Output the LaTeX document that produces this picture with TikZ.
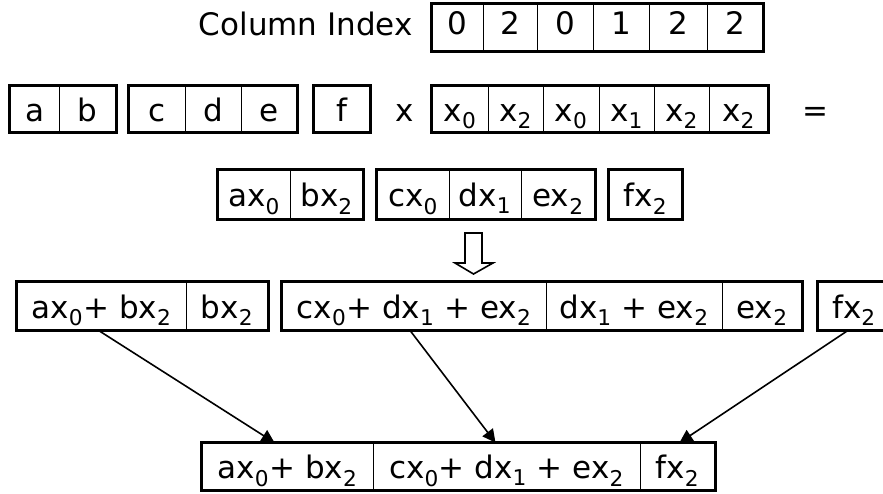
\documentclass[tikz,border=0pt]{standalone}
\usepackage{fontspec}
\setmainfont{DejaVu Sans}
\usetikzlibrary{arrows.meta}
\newcommand{\sbs}[1]{\textsubscript{#1}}
\tikzset{
  every node/.style={font=\fontsize{31}{34}\selectfont},
  cell/.style={draw, line width=0.8pt, inner sep=0pt, anchor=center, text height=26pt, text depth=2pt},
  cellone/.style={cell, text height=22pt, text depth=9pt},
  outer/.style={line width=2.8pt},
  conn/.style={line width=1.6pt, -{Triangle[width=13pt,length=13pt]}},
}
\begin{document}
\begin{tikzpicture}[x=1pt,y=-1pt]
\useasboundingbox (0,0) rectangle (883,493);
\begin{scope}
\clip (0,0) rectangle (883,493);
% Row 1
\node[anchor=base east, inner sep=0pt] (ci) at (413,35) {Column Index};
\foreach \n/\cx/\w/\t in {1/457.5/51/0, 2/510/54/2, 3/565/56/0, 4/621/56/1, 5/678/58/2, 6/735/56/2}
  \node[cellone, minimum width=\w pt, minimum height=47pt] (r1c\n) at (\cx,27.5) {\t};
\draw[outer] (r1c1.north west) rectangle (r1c6.south east);
% Row 2
\node[cell, minimum width=49pt, minimum height=46pt] (ra) at (34.5,109) {a};
\node[cell, minimum width=57pt, minimum height=46pt] (rb) at (87.5,109) {b};
\draw[outer] (ra.north west) rectangle (rb.south east);
\node[cell, minimum width=56pt, minimum height=46pt] (rc) at (157,109) {c};
\node[cell, minimum width=56pt, minimum height=46pt] (rd) at (213,109) {d};
\node[cell, minimum width=56pt, minimum height=46pt] (re) at (269,109) {e};
\draw[outer] (rc.north west) rectangle (re.south east);
\node[cell, minimum width=56pt, minimum height=46pt] (rf) at (342,109) {f};
\draw[outer] (rf.north west) rectangle (rf.south east);
\node[anchor=base, inner sep=0pt] (times) at (405,121) {x};
\foreach \n/\cx/\w/\t in {1/460/56/0, 2/515.5/55/2, 3/571/56/0, 4/626.5/55/1, 5/681.5/55/2, 6/738.5/59/2}
  \node[cell, minimum width=\w pt, minimum height=46pt] (xv\n) at (\cx,109) {x\sbs{\t}};
\draw[outer] (xv1.north west) rectangle (xv6.south east);
\node[anchor=base, inner sep=0pt] (eq) at (815,121) {=};
% Row 3
\node[cell, minimum width=72pt, minimum height=49pt] (p1) at (254,194.5) {ax\sbs{0}};
\node[cell, minimum width=73pt, minimum height=49pt] (p2) at (326.5,194.5) {bx\sbs{2}};
\draw[outer] (p1.north west) rectangle (p2.south east);
\node[cell, minimum width=72pt, minimum height=49pt] (p3) at (413,194.5) {cx\sbs{0}};
\node[cell, minimum width=72pt, minimum height=49pt] (p4) at (485,194.5) {dx\sbs{1}};
\node[cell, minimum width=74pt, minimum height=49pt] (p5) at (558,194.5) {ex\sbs{2}};
\draw[outer] (p3.north west) rectangle (p5.south east);
\node[cell, minimum width=73pt, minimum height=49pt] (p6) at (645.5,194.5) {fx\sbs{2}};
\draw[outer] (p6.north west) rectangle (p6.south east);
% hollow arrow
\draw[line width=1.6pt, line join=miter] (465,233) -- (482,233) -- (482,263) -- (493,263) -- (473.5,274) -- (455,263) -- (465,263) -- cycle;
% Row 4
\node[cell, minimum width=169pt, minimum height=48pt] (s1) at (101.5,306) {ax\sbs{0}+ bx\sbs{2}};
\node[cell, minimum width=82pt, minimum height=48pt] (s2) at (227,306) {bx\sbs{2}};
\draw[outer] (s1.north west) rectangle (s2.south east);
\node[cell, minimum width=264pt, minimum height=48pt] (s3) at (414,306) {cx\sbs{0}+ dx\sbs{1} + ex\sbs{2}};
\node[cell, minimum width=176pt, minimum height=48pt] (s4) at (634,306) {dx\sbs{1} + ex\sbs{2}};
\node[cell, minimum width=80pt, minimum height=48pt] (s5) at (762,306) {ex\sbs{2}};
\draw[outer] (s3.north west) rectangle (s5.south east);
\node[cell, minimum width=72pt, minimum height=48pt] (s6) at (854,306) {fx\sbs{2}};
\draw[outer] (s6.north west) rectangle (s6.south east);
% Row 5
\node[cell, minimum width=171pt, minimum height=47pt] (t1) at (287.5,466.5) {ax\sbs{0}+ bx\sbs{2}};
\node[cell, minimum width=267pt, minimum height=47pt] (t2) at (506.5,466.5) {cx\sbs{0}+ dx\sbs{1} + ex\sbs{2}};
\node[cell, minimum width=75pt, minimum height=47pt] (t3) at (677.5,466.5) {fx\sbs{2}};
\draw[outer] (t1.north west) rectangle (t3.south east);
% connectors
\draw[conn] ([xshift=-3pt]s1.south) -- ([xshift=-13pt]t1.north);
\draw[conn] ([xshift=-4pt]s3.south) -- ([xshift=-11pt]t2.north);
\draw[conn] ([xshift=-6pt]s6.south) -- ([xshift=2pt]t3.north);
\end{scope}
\end{tikzpicture}
\end{document}
